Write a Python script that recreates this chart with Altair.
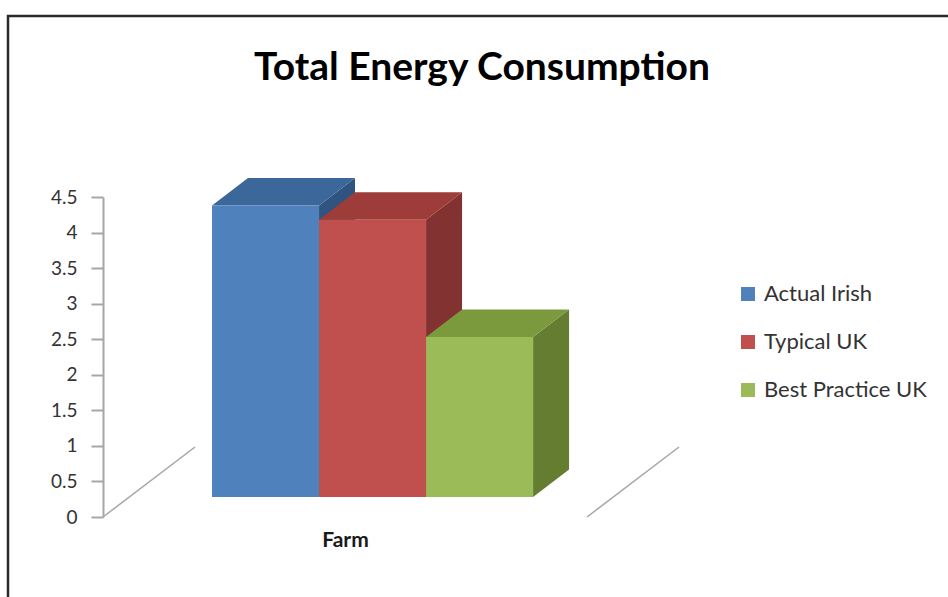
import altair as alt
import pandas as pd

# ---- data ----
series = ["Actual Irish", "Typical UK", "Best Practice UK"]
values = [4.1, 3.9, 2.25]
category = "Farm"
tick_values = [0, 0.5, 1, 1.5, 2, 2.5, 3, 3.5, 4, 4.5]

# ---- styles ----
front_colors = ["#4F81BD", "#C0504D", "#9BBB59"]
top_colors = ["#3C679A", "#9E3C39", "#7B9A3D"]
side_colors = ["#2F5480", "#823230", "#647D31"]
FONT = "Lato"

# ---- 3D layout constants (in value-axis units) ----
X_MAX = 8.1
BAR_X0 = 1.533
BAR_W = 1.505
BASE = 0.281
DX = 0.506
DY = 0.387
FLOOR_W = 6.806
FLOOR_DX = 1.294
FLOOR_DY = 0.984

df = pd.DataFrame({"series": series, "value": values, "idx": list(range(len(series)))})

xs = alt.Scale(domain=[0, X_MAX], nice=False, zero=False)
ys = alt.Scale(domain=[0, 4.5], nice=False, zero=False)

x_axis = alt.Axis(title=category, labels=False, ticks=False, domain=False, grid=False,
                  titleFont=FONT, titleFontSize=21, titleFontWeight="bold", titleColor="#1a1a1a",
                  titleX=242, titleY=23, titleBaseline="middle", titleAnchor="middle", titleAlign="center")
y_axis = alt.Axis(values=tick_values, format="~g", title=None, grid=False,
                  tickSize=12, tickWidth=2, tickColor="#A6A6A6",
                  domainWidth=2, domainColor="#A6A6A6",
                  labelFont=FONT, labelFontSize=19, labelColor="#333333", labelPadding=14)

base = alt.Chart(df).transform_calculate(
    left=f"{BAR_X0} + datum.idx * {BAR_W}",
    right=f"{BAR_X0} + (datum.idx + 1) * {BAR_W}",
    bottom=f"{BASE}",
    top=f"{BASE} + datum.value",
)

expanded = base.transform_calculate(k="[0, 1]").transform_flatten(["k"])

side = expanded.transform_calculate(
    sx=f"datum.right + datum.k * {DX}",
    sy=f"datum.top + datum.k * {DY}",
    sy2=f"datum.bottom + datum.k * {DY}",
).mark_area(orient="vertical", opacity=1).encode(
    x=alt.X("sx:Q", scale=xs, axis=x_axis),
    y=alt.Y("sy:Q", scale=ys, stack=None, axis=y_axis),
    y2="sy2:Q",
    color=alt.Color("series:N", scale=alt.Scale(domain=series, range=side_colors), legend=None),
)

top = expanded.transform_calculate(
    ty=f"datum.top + datum.k * {DY}",
    tx=f"datum.left + datum.k * {DX}",
    tx2=f"datum.right + datum.k * {DX}",
).mark_area(orient="horizontal", opacity=1).encode(
    y=alt.Y("ty:Q", scale=ys, axis=y_axis),
    x=alt.X("tx:Q", scale=xs, stack=None, axis=x_axis),
    x2="tx2:Q",
    color=alt.Color("series:N", scale=alt.Scale(domain=series, range=top_colors), legend=None),
)

front = base.mark_rect().encode(
    x=alt.X("left:Q", scale=xs, axis=x_axis),
    x2="right:Q",
    y=alt.Y("bottom:Q", scale=ys, axis=y_axis),
    y2="top:Q",
    color=alt.Color("series:N", scale=alt.Scale(domain=series, range=front_colors),
                    legend=alt.Legend(title=None, orient="none", legendX=634, legendY=86,
                                      symbolType="square", symbolSize=196, symbolStrokeWidth=0,
                                      labelFont=FONT, labelFontSize=22, labelColor="#333333",
                                      labelOffset=5, rowPadding=26, labelLimit=400)),
)

floor_df = pd.DataFrame({"edge": [0.0, FLOOR_W]})
floor = alt.Chart(floor_df).transform_calculate(
    fx2=f"datum.edge + {FLOOR_DX}", fy="0", fy2=f"{FLOOR_DY}"
).mark_rule(color="#A6A6A6", strokeWidth=1.5).encode(
    x=alt.X("edge:Q", scale=xs, axis=x_axis),
    x2="fx2:Q",
    y=alt.Y("fy:Q", scale=ys, axis=y_axis),
    y2="fy2:Q",
)

frame = alt.Chart(alt.Data(values=[{"f": 1}])).mark_rect(
    filled=False, stroke="#2a2a2a", strokeWidth=2.5
).encode(
    x=alt.value(-95), x2=alt.value(900), y=alt.value(-181), y2=alt.value(520)
)

chart = alt.layer(floor, side, top, front, frame).resolve_scale(
    color="independent"
).properties(
    width=576, height=320,
    background="white",
    title=alt.TitleParams("Total Energy Consumption", font=FONT, fontSize=39, fontWeight="bold",
                          color="#000000", anchor="middle", dx=91, offset=-73),
    autosize=alt.AutoSizeParams(type="none"),
    padding={"left": 103, "top": 197, "right": 269, "bottom": 80},
).configure_view(stroke=None)

chart.save("out.html", embed_options={"renderer": "svg", "actions": False})
